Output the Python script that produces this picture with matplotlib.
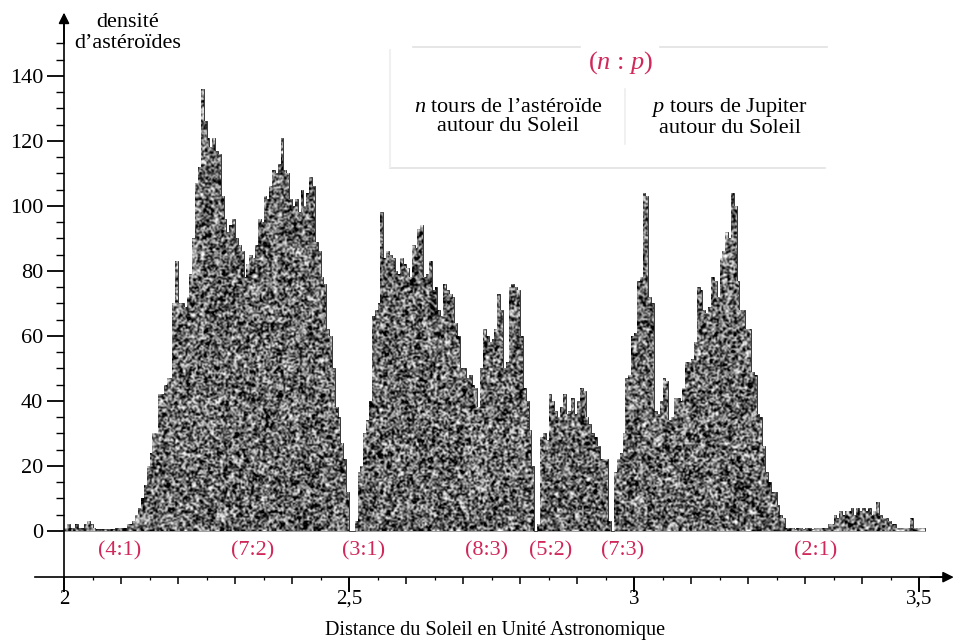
import numpy as np
import matplotlib
matplotlib.use("Agg")
import matplotlib.pyplot as plt
from matplotlib.ticker import FixedLocator, FixedFormatter

plt.rcParams['font.family'] = ['Liberation Serif', 'DejaVu Serif']
plt.rcParams['mathtext.fontset'] = 'custom'
plt.rcParams['mathtext.rm'] = 'Liberation Serif'
plt.rcParams['mathtext.it'] = 'Liberation Serif:italic'

# ---------------- data ----------------
distance_start = 2.0      # AU
bin_width = 0.005         # AU
density_inner = [1, 2, 1, 1, 2, 1, 1, 2, 3, 2,
                 1, 0.5, 0.5, 0.5, 0.5, 0.5, 0.5, 0.5, 1, 1,
                 1, 1, 2, 2, 3, 5, 7, 10, 14, 20,
                 24, 30, 30, 42, 42, 45, 47, 47, 70, 83,
                 70, 70, 69, 72, 79, 90, 107, 112, 136, 126,
                 121, 118, 121, 117, 116, 103, 96, 92, 94, 96,
                 90, 88, 86, 78, 82, 85, 84, 88, 96, 95,
                 103, 102, 106, 111, 110, 113, 121, 111, 110, 102,
                 100, 102, 98, 105, 100, 104, 109, 106, 89, 86,
                 78, 76, 62, 60, 50, 38, 35, 27, 22, 12]
density_middle = [0, 0, 3, 18, 20, 30, 34, 40, 66, 68,
                  70, 98, 84, 86, 85, 84, 80, 79, 84, 82,
                  81, 78, 88, 87, 93, 94, 78, 79, 83, 74,
                  75, 68, 66, 76, 74, 73, 72, 64, 60, 50,
                  50, 47, 48, 45, 44, 38, 50, 62, 60, 58,
                  59, 62, 73, 68, 50, 52, 75, 76, 75, 74,
                  60, 44, 40, 31, 20, 0, 2, 29, 30, 28,
                  42, 40, 37, 35, 38, 42, 36, 37, 41, 36,
                  40, 44, 43, 35, 33, 30, 29, 26, 22, 22]
density_outer = [22, 3, 0, 18, 22, 24, 30, 47, 48, 60,
                 61, 77, 78, 104, 103, 72, 70, 37, 36, 40,
                 47, 46, 34, 35, 41, 41, 40, 44, 52, 52,
                 53, 58, 75, 74, 68, 67, 69, 78, 77, 72,
                 84, 86, 92, 90, 104, 100, 77, 68, 68, 62,
                 62, 49, 48, 36, 35, 26, 18, 15, 12, 12,
                 8, 5, 4, 1, 1, 1, 0.5, 1, 1, 0.5,
                 1, 1, 0.5, 1, 1, 1, 1, 1, 2, 2,
                 5, 4, 6, 5, 6, 6, 7, 5, 7, 6,
                 7, 6, 7, 5, 6, 9, 5, 4, 4, 3,
                 2, 2, 1, 1, 1, 1, 1, 4, 1, 1,
                 1, 1]

resonance_labels = ["(4:1)", "(7:2)", "(3:1)", "(8:3)", "(5:2)", "(7:3)", "(2:1)"]
resonance_label_pos = [2.098, 2.331, 2.525, 2.741, 2.853, 2.980, 3.318]

y_ticks = [0, 20, 40, 60, 80, 100, 120, 140]
x_tick_values = [2.0, 2.5, 3.0, 3.5]
x_tick_labels = ["2", "2,5", "3", "3,5"]

density = np.array(density_inner + density_middle + density_outer, dtype=float)
edges = distance_start + bin_width * np.arange(len(density) + 1)

RED = '#d0285a'

# ---------------- figure ----------------
fig = plt.figure(figsize=(9.54, 6.4), dpi=100)
ax = fig.add_axes([0, 0, 1, 1])
ax.set_facecolor('white')
XLIM = (1.8877, 3.5614)
YLIM = (-33.54, 163.38)

# histogram with speckled (print-like) texture
step = ax.stairs(density, edges, fill=True, facecolor='#444444',
                 edgecolor='#2a2a2a', linewidth=0.6, zorder=2)
rng = np.random.default_rng(11)
tex = rng.random((300, 580))
im = ax.imshow(tex, extent=(edges[0], edges[-1], 0, density.max() + 2),
               cmap='gray', vmin=0.22, vmax=0.9, aspect='auto',
               interpolation='bicubic', interpolation_stage='data',
               origin='lower', zorder=3)
im.set_clip_path(step)

ax.set_xlim(*XLIM)
ax.set_ylim(*YLIM)

# spines as arrowed axes
for s in ['top', 'right']:
    ax.spines[s].set_visible(False)
ax.spines['left'].set_position(('data', 2.0))
ax.spines['bottom'].set_position(('data', -14.2))
ax.spines['left'].set_bounds(-14.2, 156)
ax.spines['bottom'].set_bounds(1.949, 3.54)
for s in ['left', 'bottom']:
    ax.spines[s].set_linewidth(1.2)
    ax.spines[s].set_zorder(5)
ax.annotate('', xy=(2.0, 159.5), xytext=(2.0, 150),
            arrowprops=dict(arrowstyle='-|>', color='black', lw=1.2,
                            mutation_scale=16, shrinkA=0, shrinkB=0))
ax.annotate('', xy=(3.561, -14.2), xytext=(3.52, -14.2),
            arrowprops=dict(arrowstyle='-|>', color='black', lw=1.2,
                            mutation_scale=16, shrinkA=0, shrinkB=0),
            annotation_clip=False)

# y ticks
ax.yaxis.set_major_locator(FixedLocator(y_ticks))
ax.yaxis.set_minor_locator(FixedLocator([v for v in range(5, 151, 5) if v % 20 != 0]))
ax.tick_params(axis='y', which='major', direction='out', length=12, width=1.3,
               labelsize=16, pad=3)
ax.tick_params(axis='y', which='minor', direction='out', length=6, width=1.0)

# x ticks
xmaj = [round(2.0 + 0.1 * k, 2) for k in range(16)]
ax.xaxis.set_major_locator(FixedLocator(xmaj))
ax.xaxis.set_major_formatter(FixedFormatter(
    [x_tick_labels[x_tick_values.index(v)] if v in x_tick_values else '' for v in xmaj]))
ax.xaxis.set_minor_locator(FixedLocator([round(2.05 + 0.1 * k, 2) for k in range(15)]))
ax.tick_params(axis='x', which='major', direction='out', length=5, width=1.1,
               labelsize=15, pad=4)
ax.tick_params(axis='x', which='minor', direction='out', length=2.5, width=0.9)
for t, v in zip(ax.xaxis.get_major_ticks(), xmaj):
    if v in x_tick_values:
        t.tick1line.set_markersize(11)
        t.tick1line.set_markeredgewidth(1.4)

# resonance labels
for lab, xp in zip(resonance_labels, resonance_label_pos):
    ax.text(xp, -6.2, lab, color=RED, fontsize=16, ha='center', va='center')

# axis titles
ax.text(2.112, 153.2, "densité\nd’astéroïdes", fontsize=16, ha='center', va='center',
        linespacing=1.15)
ax.text(2.757, -30.6, "Distance du Soleil en Unité Astronomique", fontsize=14.5,
        ha='center', va='center')

# explanatory box
box_col = '#e2e2e2'
ax.plot([2.612, 2.905], [148.9, 148.9], color=box_col, lw=1.2, zorder=1)
ax.plot([3.046, 3.339], [148.9, 148.9], color=box_col, lw=1.2, zorder=1)
ax.plot([2.572, 3.335], [111.7, 111.7], color=box_col, lw=1.2, zorder=1)
ax.plot([2.572, 2.572], [112, 148], color='#f0f0f0', lw=1.5, zorder=1)
ax.plot([2.984, 2.984], [119, 136], color='#eeeeee', lw=1.2, zorder=1)
ax.text(2.976, 144.2, "($n$ : $p$)", color=RED, fontsize=19, ha='center', va='center')
ax.text(2.779, 127.4, "$n$ tours de l’astéroïde\nautour du Soleil", fontsize=16,
        ha='center', va='center', linespacing=1.05)
ax.text(3.168, 127.4, "$p$ tours de Jupiter\nautour du Soleil", fontsize=16,
        ha='center', va='center', linespacing=1.05)

fig.savefig("out.png", dpi=100)
